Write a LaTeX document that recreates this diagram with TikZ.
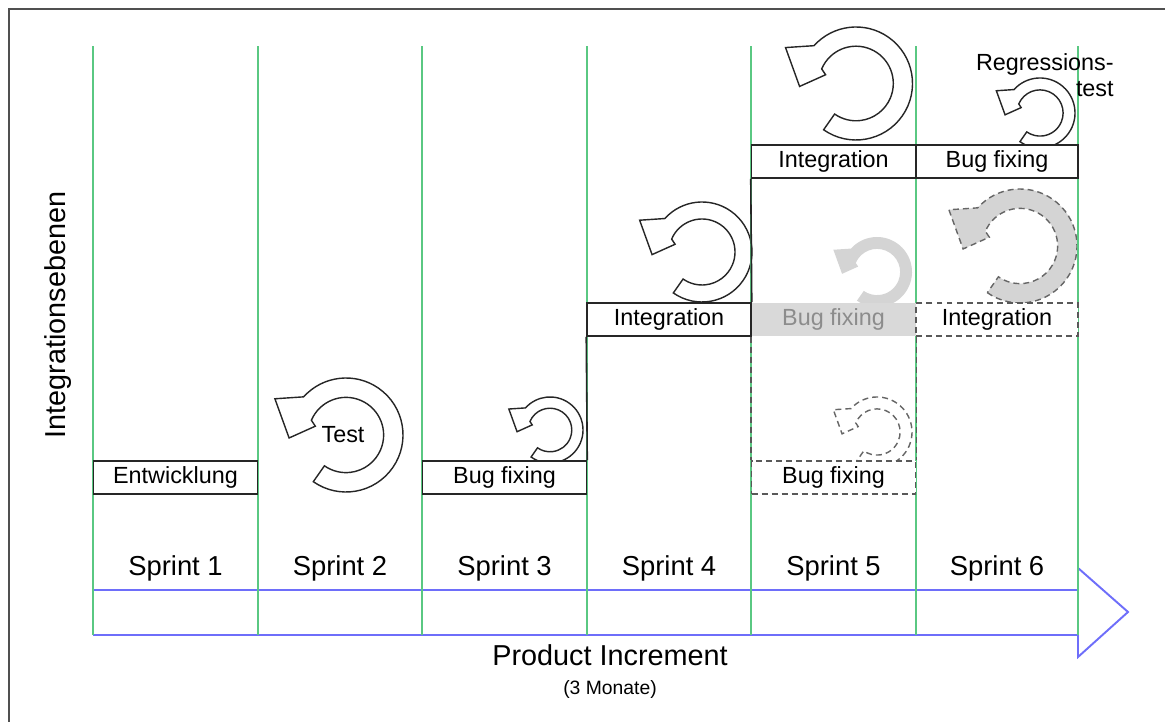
\documentclass[tikz,border=0pt]{standalone}
\usepackage{fontspec}
\setmainfont{Liberation Sans}
\definecolor{spalte}{RGB}{90,200,130}
\definecolor{zeitachse}{RGB}{110,110,250}
\definecolor{rahmen}{RGB}{80,80,80}
\tikzset{
  kasten/.style = {draw=black!85, line width=0.9pt, fill=white, minimum width=3.28cm,
    minimum height=0.66cm, inner sep=0pt, font=\fontsize{13.3}{15}\selectfont},
  geplant/.style = {kasten, draw=black!65, dash pattern=on 3.4pt off 2.3pt},
  verworfen/.style = {kasten, draw=none, fill=black!15, text=black!45},
  zyklus/.style = {draw=black!85, line width=0.8pt, fill=white},
  zyklusgrau/.style = {draw=none, fill=black!17},
  zyklusplan/.style = {draw=black!60, line width=0.8pt, dash pattern=on 3.4pt off 2.3pt},
  sprint/.style = {font=\fontsize{15.6}{18}\selectfont},
}
% ring with arrow head, centre (#2,#3), outer radius #4
\newcommand{\zykluspfeil}[4][zyklus]{%
  \begin{scope}[shift={(#2,#3)},scale=#4]
    \draw[#1] (-125:1) arc[start angle=-125,end angle=138,radius=1]
      -- (153:1.4) -- (183:1.0) -- (164:0.56) -- (157:0.66)
      arc[start angle=157,end angle=-125,radius=0.66] -- cycle;
  \end{scope}}

\begin{document}
\begin{tikzpicture}[x=0.02cm,y=0.02cm]
  \useasboundingbox (0,0) rectangle (1165,722);
  \draw[rahmen, line width=1.4pt] (9,0) -- (9,713) -- (1165,713);

  \draw[zeitachse, line width=1.1pt] (93,132) -- (1078,132) -- (1078,154) -- (1128,110)
    -- (1078,65) -- (1078,87) -- (93,87);

  \zykluspfeil{346}{287}{57}
  \zykluspfeil{550}{292}{33}
  \zykluspfeil{702}{470}{50}
  \zykluspfeil{856}{638.5}{56.5}
  \zykluspfeil{1040}{609}{35}
  \zykluspfeil[zyklusgrau]{877}{450}{35}
  \zykluspfeil[zyklusgrau,zyklusplan]{1020}{476}{57}
  \zykluspfeil[zyklusplan,fill=white]{877}{290}{35}

  \draw[spalte, line width=1.1pt] (93,87) -- (93,676);
  \draw[spalte, line width=1.1pt] (258,87) -- (258,676);
  \draw[spalte, line width=1.1pt] (422,87) -- (422,676);
  \draw[spalte, line width=1.1pt] (587,87) -- (587,676);
  \draw[spalte, line width=1.1pt] (751,87) -- (751,676);
  \draw[spalte, line width=1.1pt] (916,87) -- (916,676);
  \draw[spalte, line width=1.1pt] (1078,87) -- (1078,676);

  \node[kasten] (entw) at (175.5,244.5) {Entwicklung};
  \node[kasten] (bug3) at (504.5,244.5) {Bug fixing};
  \node[kasten] (int4) at (669,402.5) {Integration};
  \node[verworfen] (bug5) at (833.5,402.5) {Bug fixing};
  \node[geplant] (plan5) at (833.5,244.5) {Bug fixing};
  \node[kasten] (int5) at (833.5,560.5) {Integration};
  \node[kasten, minimum width=3.24cm] (bug6) at (997,560.5) {Bug fixing};
  \node[geplant, minimum width=3.24cm] (plan6) at (997,402.5) {Integration};

  \draw[black!85, line width=0.9pt] (bug3.north east) -- (int4.south west);
  \draw[black!85, line width=0.9pt] (int4.north east) -- (int5.south west);
  \draw[black!65, line width=0.9pt, dash pattern=on 3.4pt off 2.3pt] (bug5.south west) -- (plan5.north west);
  \draw[black!65, line width=0.9pt, dash pattern=on 3.4pt off 2.3pt] (bug5.south east) -- (plan5.north east);

  \node[font=\fontsize{13.3}{15}\selectfont] (test) at (343,287) {Test};
  \node[font=\fontsize{13.3}{15}\selectfont, align=right, anchor=east, inner sep=0pt] (regr) at (1114,647) {Regressions-\\test};

  \node[sprint] (s1) at (175.5,154) {Sprint 1};
  \node[sprint] (s2) at (340,154) {Sprint 2};
  \node[sprint] (s3) at (504.5,154) {Sprint 3};
  \node[sprint] (s4) at (669,154) {Sprint 4};
  \node[sprint] (s5) at (833.5,154) {Sprint 5};
  \node[sprint] (s6) at (997,154) {Sprint 6};

  \node[font=\fontsize{16.4}{19}\selectfont] (inkrement) at (610,67) {Product Increment};
  \node[font=\fontsize{11}{13}\selectfont] (dauer) at (610,32) {(3 Monate)};
  \node[font=\fontsize{16.4}{19}\selectfont, rotate=90] (ebenen) at (58,407) {Integrationsebenen};
\end{tikzpicture}
\end{document}
